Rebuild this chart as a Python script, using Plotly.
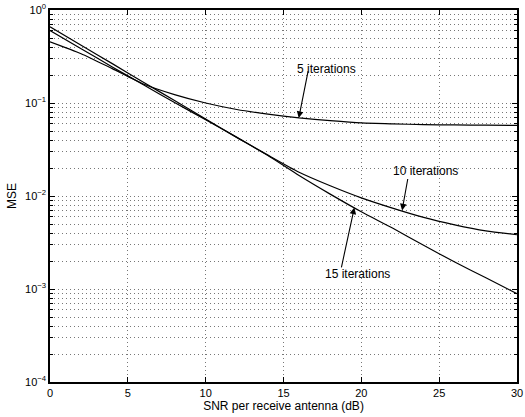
import math
import plotly.graph_objects as go

snr = [0, 2, 4, 6, 8, 10, 12, 14, 16, 18, 20, 22, 24, 26, 28, 30]
mse_5 = [0.455, 0.339, 0.234, 0.160, 0.1230, 0.100, 0.0851, 0.0759, 0.0692, 0.0646, 0.0610, 0.0596, 0.0586, 0.0581, 0.0578, 0.0575]
mse_10 = [0.603, 0.384, 0.244, 0.157, 0.1012, 0.0661, 0.0427, 0.0275, 0.0180, 0.01288, 0.00955, 0.00741, 0.00589, 0.00490, 0.00422, 0.00383]
mse_15 = [0.661, 0.418, 0.265, 0.1675, 0.1062, 0.0671, 0.0427, 0.0272, 0.0166, 0.01047, 0.00676, 0.00452, 0.00295, 0.00195, 0.00132, 0.00089]

x_ticks = [0, 5, 10, 15, 20, 25, 30]
y_ticks = [1e-4, 1e-3, 1e-2, 1e-1, 1e0]
y_ticktext = ["10<sup>−4</sup>", "10<sup>−3</sup>", "10<sup>−2</sup>", "10<sup>−1</sup>", "10<sup>0</sup>"]

labels = ["5 iterations", "10 iterations", "15 iterations"]
label_pos = [(17.76, 0.230), (24.1, 0.0185), (19.77, 0.00145)]
arrow_tip = [(15.98, 0.0690), (22.62, 0.00700), (19.55, 0.0075)]
arrow_tail = [(16.6, 0.229), (23.0, 0.0158), (18.7, 0.00165)]

FONT = "Liberation Sans, Arial, sans-serif"

fig = go.Figure()
for ys in (mse_5, mse_10, mse_15):
    fig.add_trace(go.Scatter(x=snr, y=ys, mode="lines",
                             line=dict(color="black", width=1.2, shape="spline", smoothing=0.6),
                             showlegend=False, hoverinfo="skip"))

for txt, (tx, ty) in zip(labels, label_pos):
    fig.add_annotation(x=tx, y=math.log10(ty), text=txt, showarrow=False,
                       font=dict(family=FONT, size=12, color="black"))
for (hx, hy), (tx, ty) in zip(arrow_tip, arrow_tail):
    fig.add_annotation(x=hx, y=math.log10(hy), ax=tx, ay=math.log10(ty),
                       axref="x", ayref="y", xref="x", yref="y", text="",
                       showarrow=True, arrowhead=2, arrowsize=1.2, arrowwidth=1.1,
                       arrowcolor="black")

axis_common = dict(
    showline=True, linecolor="black", linewidth=1.5, mirror="ticks",
    ticks="inside", ticklen=5, tickcolor="black",
    gridcolor="#777777", griddash="1px,3px", gridwidth=1,
    zeroline=False,
    tickfont=dict(family=FONT, size=11, color="black"),
)

fig.update_xaxes(range=[0, 30], tickvals=x_ticks, showgrid=True,
                 ticklabeloverflow="allow",
                 title=dict(text="SNR per receive antenna (dB)", standoff=4,
                            font=dict(family=FONT, size=12, color="black")),
                 **axis_common)
fig.update_yaxes(type="log", range=[-4, 0], tickvals=y_ticks, ticktext=y_ticktext,
                 showgrid=True, ticklabeloverflow="allow",
                 minor=dict(showgrid=True, gridcolor="#777777", griddash="1px,3px", gridwidth=1,
                            tickvals=[m * 10 ** e for e in range(-4, 0) for m in range(2, 10)],
                            ticks="inside", ticklen=3, tickcolor="black"),
                 title=dict(text="MSE", standoff=6,
                            font=dict(family=FONT, size=12, color="black")),
                 **axis_common)

fig.update_layout(width=525, height=417, margin=dict(l=50, r=2, t=8, b=35),
                  plot_bgcolor="white", paper_bgcolor="white")
fig.write_html("out.html", config={"displayModeBar": False},
               post_script="document.body.style.margin='0';")
